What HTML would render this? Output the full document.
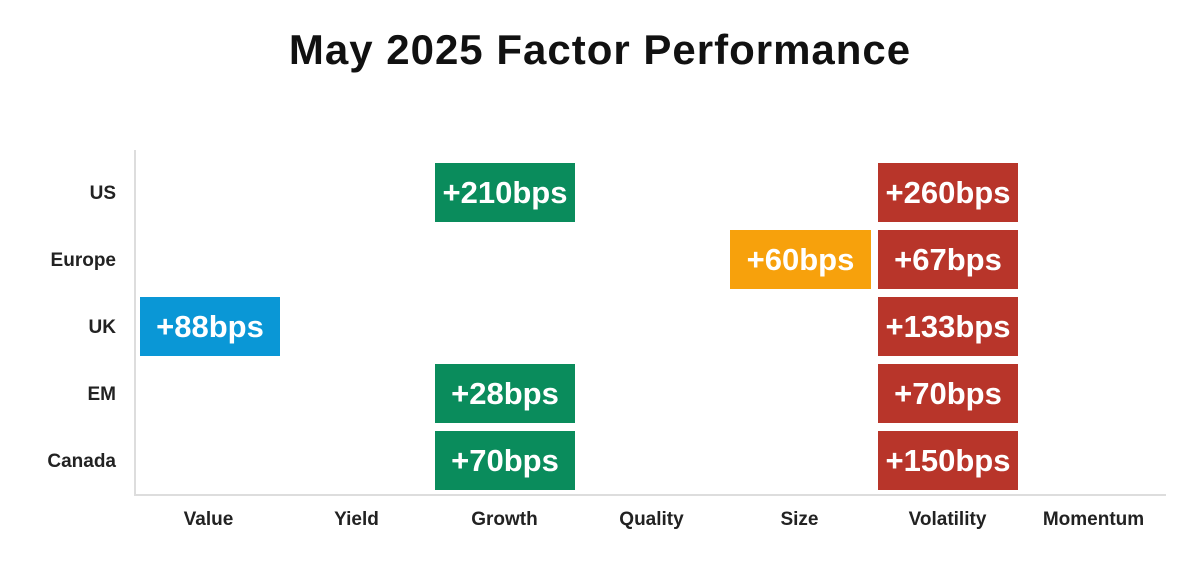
<!DOCTYPE html>
<html><head><style>
body{margin:0;width:1200px;height:564px;background:#fff;position:relative;overflow:hidden;font-family:"Liberation Sans",sans-serif;}
.t{position:absolute;left:0;width:1200px;top:26px;text-align:center;font-size:42px;font-weight:bold;color:#111;letter-spacing:1px}
.b{position:absolute;width:140px;height:59px;color:#fff;font-weight:bold;font-size:31px;line-height:60px;text-align:center;letter-spacing:0px}
.g{background:#0a8c5c}.r{background:#b8352a}.o{background:#f7a10c}.bl{background:#0a97d6}
.rl{position:absolute;right:1084px;font-size:19px;font-weight:bold;color:#222;}
.cl{position:absolute;top:509px;width:147px;text-align:center;font-size:19px;font-weight:bold;color:#222;}
</style></head><body>
<div class="t">May 2025 Factor Performance</div>
<div style="position:absolute;left:134px;top:150px;width:2px;height:346px;background:#ddd"></div>
<div style="position:absolute;left:134px;top:494px;width:1032px;height:2px;background:#ddd"></div>
<div class="rl" style="top:183px">US</div>
<div class="rl" style="top:250px">Europe</div>
<div class="rl" style="top:317px">UK</div>
<div class="rl" style="top:384px">EM</div>
<div class="rl" style="top:451px">Canada</div>
<div class="cl" style="left:135px">Value</div>
<div class="cl" style="left:283px">Yield</div>
<div class="cl" style="left:431px">Growth</div>
<div class="cl" style="left:578px">Quality</div>
<div class="cl" style="left:726px">Size</div>
<div class="cl" style="left:874px">Volatility</div>
<div class="cl" style="left:1020px">Momentum</div>
<div class="b g" style="left:435px;top:163px">+210bps</div>
<div class="b r" style="left:878px;top:163px">+260bps</div>
<div class="b o" style="left:730px;top:230px;width:141px">+60bps</div>
<div class="b r" style="left:878px;top:230px">+67bps</div>
<div class="b bl" style="left:140px;top:297px">+88bps</div>
<div class="b r" style="left:878px;top:297px">+133bps</div>
<div class="b g" style="left:435px;top:364px">+28bps</div>
<div class="b r" style="left:878px;top:364px">+70bps</div>
<div class="b g" style="left:435px;top:431px">+70bps</div>
<div class="b r" style="left:878px;top:431px">+150bps</div>
</body></html>
